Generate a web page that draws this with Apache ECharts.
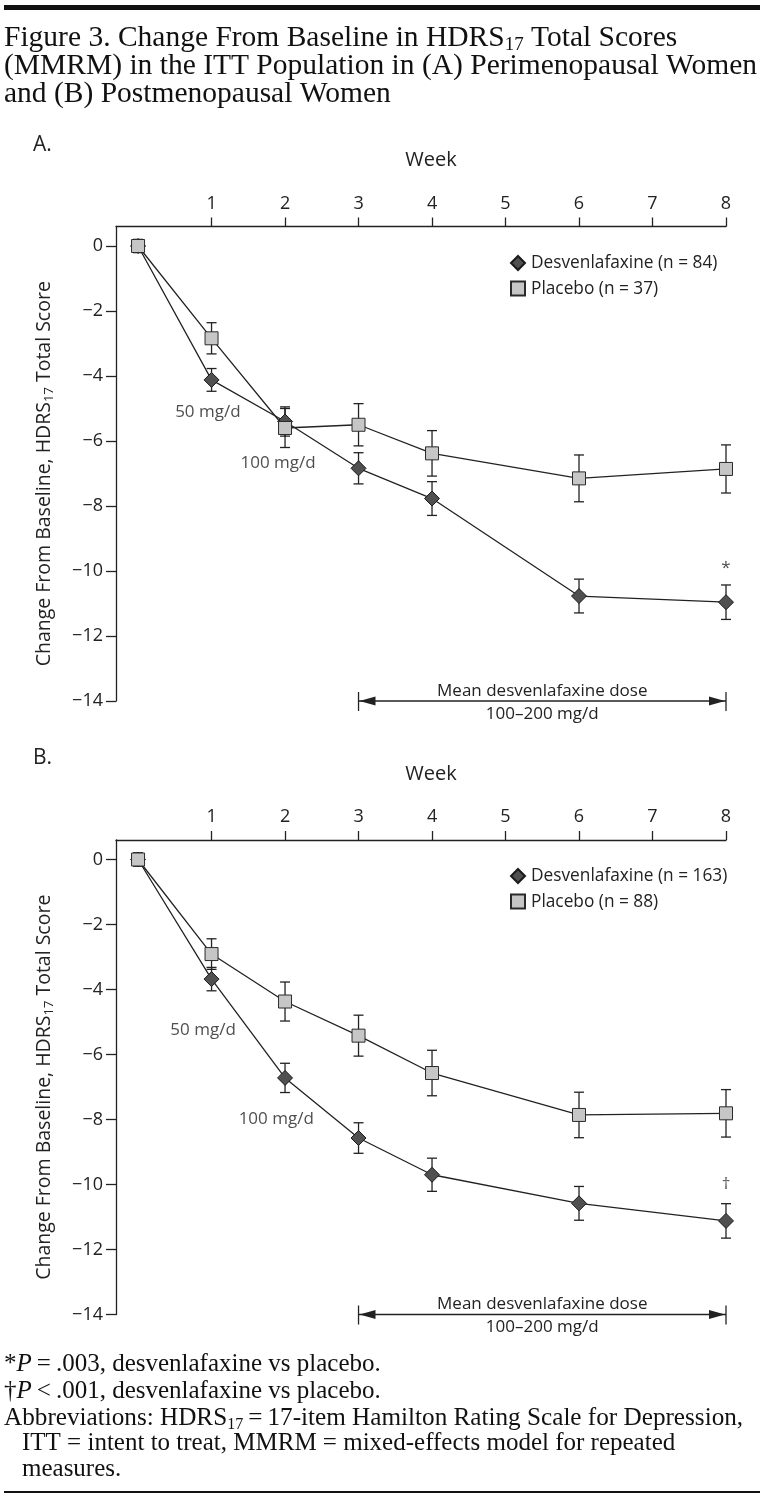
<!DOCTYPE html>
<html><head><meta charset="utf-8">
<script src="https://cdn.jsdelivr.net/npm/echarts@6/dist/echarts.min.js"></script>
<style>html,body{margin:0;padding:0;background:#fff}#c{width:768px;height:1498px}</style>
</head><body><div id="c"></div>
<script>
// ---- data ----
const weeks = [0, 1, 2, 3, 4, 6, 8];
const weekTicks = [1, 2, 3, 4, 5, 6, 7, 8];
const yTicks = [-14, -12, -10, -8, -6, -4, -2, 0];
// Panel A: perimenopausal women
const desvA    = [0, -4.12, -5.40, -6.84, -7.77, -10.77, -10.96];
const desvA_se = [0.2, 0.35, 0.45, 0.48, 0.52, 0.52, 0.53];
const placA    = [0, -2.84, -5.60, -5.50, -6.38, -7.15, -6.86];
const placA_se = [0.2, 0.48, 0.60, 0.65, 0.70, 0.72, 0.74];
// Panel B: postmenopausal women
const desvB    = [0, -3.68, -6.72, -8.57, -9.70, -10.58, -11.12];
const desvB_se = [0.2, 0.36, 0.45, 0.47, 0.51, 0.52, 0.53];
const placB    = [0, -2.91, -4.37, -5.42, -6.57, -7.86, -7.81];
const placB_se = [0.2, 0.47, 0.60, 0.63, 0.70, 0.70, 0.73];
const doseStart = 3, doseEnd = 8;

const SANS = 'Open Sans';
const SERIF = 'Liberation Serif';
const INK = '#222';

const chart = echarts.init(document.getElementById('c'), null, {renderer: 'canvas'});

const panels = [
  {top: 226.5, desv: desvA, desvSe: desvA_se, plac: placA, placSe: placA_se,
   desvName: 'Desvenlafaxine (n = 84)', placName: 'Placebo (n = 37)', legendTop: 249.5,
   notes: [{value: [0.95, -5.10], t: '50 mg/d'}, {value: [1.905, -6.67], t: '100 mg/d'}, {value: [8, -9.9], t: '*'}]},
  {top: 840, desv: desvB, desvSe: desvB_se, plac: placB, placSe: placB_se,
   desvName: 'Desvenlafaxine (n = 163)', placName: 'Placebo (n = 88)', legendTop: 862.5,
   notes: [{value: [0.885, -5.24], t: '50 mg/d'}, {value: [1.88, -7.99], t: '100 mg/d'}, {value: [8, -9.99], t: '\u2020'}]}
];

const grids = [], xAxes = [], yAxes = [], series = [], legends = [];

function errBars(i, vals, se) {
  return {
    type: 'custom', xAxisIndex: i, yAxisIndex: i, silent: true, z: 1,
    encode: {x: 0, y: [1, 2]},
    data: weeks.map((w, k) => [w, vals[k] - se[k], vals[k] + se[k]]),
    renderItem(params, api) {
      const lo = api.coord([api.value(0), api.value(1)]);
      const hi = api.coord([api.value(0), api.value(2)]);
      const cw = 5, st = {stroke: INK, lineWidth: 1.3};
      return {type: 'group', children: [
        {type: 'line', shape: {x1: lo[0], y1: lo[1], x2: hi[0], y2: hi[1]}, style: st},
        {type: 'line', shape: {x1: lo[0] - cw, y1: lo[1], x2: lo[0] + cw, y2: lo[1]}, style: st},
        {type: 'line', shape: {x1: hi[0] - cw, y1: hi[1], x2: hi[0] + cw, y2: hi[1]}, style: st}
      ]};
    }
  };
}

panels.forEach((p, i) => {
  grids.push({left: 116, top: p.top, width: 610, height: 474.5});
  xAxes.push({
    gridIndex: i, type: 'value', position: 'top', min: -0.3, max: 8,
    axisLine: {show: true, onZero: false, lineStyle: {color: INK, width: 1.3}},
    axisTick: {show: true, length: 9, customValues: weekTicks, lineStyle: {color: INK, width: 1.3}},
    axisLabel: {show: true, customValues: weekTicks, margin: 14, fontFamily: SANS, fontSize: 18, color: INK},
    splitLine: {show: false},
    name: 'Week', nameLocation: 'middle', nameGap: 56,
    nameTextStyle: {fontFamily: SANS, fontSize: 20, color: INK, padding: [0, 0, 0, 20]}
  });
  yAxes.push({
    gridIndex: i, type: 'value', min: -14, max: 0.6,
    axisLine: {show: true, onZero: false, lineStyle: {color: INK, width: 1.3}},
    axisTick: {show: true, length: 10, customValues: yTicks, lineStyle: {color: INK, width: 1.3}},
    axisLabel: {show: true, customValues: yTicks, margin: 13, fontFamily: SANS, fontSize: 18, color: INK,
      formatter: v => v < 0 ? '\u2212' + (-v) : String(v)},
    splitLine: {show: false},
    name: '{m|Change From Baseline, HDRS}{s|17}{m| Total Score}',
    nameLocation: 'middle', nameGap: 61, nameRotate: 90,
    nameTextStyle: {color: INK, padding: [0, 20, 0, 0],
      rich: {m: {fontFamily: SANS, fontSize: 19.5, color: INK, lineHeight: 22},
             s: {fontFamily: SANS, fontSize: 13, color: INK, lineHeight: 6, padding: [11, 0, 0, 0]}}}
  });
  series.push(errBars(i, p.desv, p.desvSe));
  series.push(errBars(i, p.plac, p.placSe));
  series.push({
    type: 'line', name: p.desvName, xAxisIndex: i, yAxisIndex: i, z: 2,
    data: weeks.map((w, k) => [w, p.desv[k]]),
    symbol: 'diamond', symbolSize: 15,
    lineStyle: {color: INK, width: 1.3},
    itemStyle: {color: '#505050', borderColor: '#1a1a1a', borderWidth: 1}
  });
  series.push({
    type: 'line', name: p.placName, xAxisIndex: i, yAxisIndex: i, z: 3,
    data: weeks.map((w, k) => [w, p.plac[k]]),
    symbol: 'rect', symbolSize: 13,
    lineStyle: {color: INK, width: 1.3},
    itemStyle: {color: '#c6c6c6', borderColor: '#2a2a2a', borderWidth: 1}
  });
  series.push({
    type: 'scatter', xAxisIndex: i, yAxisIndex: i, silent: true, symbolSize: 1,
    itemStyle: {color: 'transparent'},
    label: {show: true, position: 'inside', formatter: q => q.data.t, fontFamily: SANS, fontSize: 17, color: INK},
    data: p.notes
  });
  series.push({
    type: 'custom', xAxisIndex: i, yAxisIndex: i, silent: true, clip: false, z: 5,
    data: [[doseStart, doseEnd, -14]],
    renderItem(params, api) {
      const a = api.coord([api.value(0), api.value(2)]);
      const b = api.coord([api.value(1), api.value(2)]);
      const st = {stroke: INK, lineWidth: 1.3};
      const cx = (a[0] + b[0]) / 2;
      return {type: 'group', children: [
        {type: 'line', shape: {x1: a[0], y1: a[1], x2: b[0], y2: b[1]}, style: st},
        {type: 'line', shape: {x1: a[0], y1: a[1] - 9, x2: a[0], y2: a[1] + 10}, style: st},
        {type: 'line', shape: {x1: b[0], y1: b[1] - 9, x2: b[0], y2: b[1] + 10}, style: st},
        {type: 'polygon', shape: {points: [[a[0] + 1, a[1]], [a[0] + 17, a[1] - 4.5], [a[0] + 17, a[1] + 4.5]]}, style: {fill: INK}},
        {type: 'polygon', shape: {points: [[b[0] - 1, b[1]], [b[0] - 17, b[1] - 4.5], [b[0] - 17, b[1] + 4.5]]}, style: {fill: INK}},
        {type: 'text', x: cx, y: a[1] - 10, style: {text: 'Mean desvenlafaxine dose', align: 'center', verticalAlign: 'middle', font: '17px "Open Sans"', fill: INK}},
        {type: 'text', x: cx, y: a[1] + 13, style: {text: '100\u2013200 mg/d', align: 'center', verticalAlign: 'middle', font: '17px "Open Sans"', fill: INK}}
      ]};
    }
  });
  legends.push({
    left: 505, top: p.legendTop, orient: 'vertical', itemWidth: 14, itemHeight: 14, itemGap: 8.6,
    selectedMode: false,
    data: [{name: p.desvName, icon: 'diamond'}, {name: p.placName, icon: 'rect'}],
    textStyle: {fontFamily: SANS, fontSize: 17.3, color: INK, padding: [0, 0, 0, 1]}
  });
});

function serifLine(x, y, text, size, sub) {
  const rich = {
    n: {fontFamily: SERIF, fontSize: size, lineHeight: size, fill: '#111'},
    i: {fontFamily: SERIF, fontSize: size, lineHeight: size, fontStyle: 'italic', fill: '#111'},
    s: {fontFamily: SERIF, fontSize: sub, lineHeight: 10, padding: [Math.round(size * 0.5), 0, 0, 0], fill: '#111'}
  };
  return {type: 'text', left: x, top: y, style: {text, rich, fill: '#111'}};
}

const graphics = [
  {type: 'rect', left: 4, top: 5, shape: {width: 756, height: 5}, style: {fill: '#111'}},
  serifLine(4, 21, '{n|Figure 3. Change From Baseline in HDRS}{s|17}{n| Total Scores}', 29.5, 19),
  serifLine(4, 51, '{n|(MMRM) in the ITT Population in (A) Perimenopausal Women}', 29.5, 19),
  serifLine(4, 79.5, '{n|and (B) Postmenopausal Women}', 29.5, 19),
  {type: 'text', left: 33, top: 135, style: {text: 'A.', font: '21px "Open Sans"', fill: INK}},
  {type: 'text', left: 33, top: 748, style: {text: 'B.', font: '21px "Open Sans"', fill: INK}},
  serifLine(4, 1352, '{n|*}{i|P}{n|\u2009=\u2009.003, desvenlafaxine vs placebo.}', 25, 16),
  serifLine(4, 1378.5, '{n|\u2020}{i|P}{n|\u2009<\u2009.001, desvenlafaxine vs placebo.}', 25, 16),
  serifLine(4, 1404, '{n|Abbreviations: HDRS}{s|17}{n|\u2009=\u200917-item Hamilton Rating Scale for Depression,}', 25.2, 16),
  serifLine(22, 1430.5, '{n|ITT = intent to treat, MMRM = mixed-effects model for repeated}', 25, 16),
  serifLine(22, 1456.5, '{n|measures.}', 25, 16),
  {type: 'rect', left: 4, top: 1491, shape: {width: 756, height: 2}, style: {fill: '#111'}}
];

chart.setOption({
  animation: false,
  backgroundColor: '#fff',
  grid: grids, xAxis: xAxes, yAxis: yAxes, series, legend: legends, graphic: graphics
});
</script>
</body></html>
